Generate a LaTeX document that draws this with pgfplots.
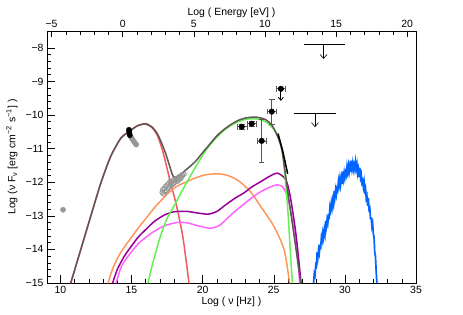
\documentclass[border=0pt]{standalone}
\usepackage{fontspec}
\setmainfont{Liberation Sans}
\usepackage{pgfplots}
\pgfplotsset{compat=1.18}
\usetikzlibrary{arrows.meta}
\definecolor{totc}{RGB}{96,86,86}
\definecolor{redc}{RGB}{240,90,90}
\definecolor{greenc}{RGB}{100,240,80}
\definecolor{orangec}{RGB}{255,150,90}
\definecolor{purplec}{RGB}{150,0,150}
\definecolor{pinkc}{RGB}{255,100,255}
\definecolor{bluec}{RGB}{0,102,255}
\definecolor{grayp}{RGB}{150,150,150}
\begin{document}
\begin{tikzpicture}
\useasboundingbox (-47bp,-32bp) rectangle (416bp,283bp);
\begin{axis}[at={(0,0)}, anchor=south west, scale only axis,
  width=369bp, height=252bp,
  xmin=9.06, xmax=35, ymin=-15, ymax=-7.5,
  xtick={10,15,20,25,30,35}, xticklabels={10,15,20,25,30,35},
  minor x tick num=4,
  ytick={-15,-14,-13,-12,-11,-10,-9,-8},
  yticklabels={−15,−14,−13,−12,−11,−10,−9,−8},
  minor y tick num=4,
  tick align=inside, xtick pos=bottom, ytick pos=left,
  major tick length=8bp, minor tick length=4bp,
  tick style={black, line width=0.5bp},
  axis line style={black, line width=0.6bp},
  font=\fontsize{10.5}{12}\selectfont,
  xlabel={Log ( ν [Hz] )},
  ylabel={Log (ν F\textsubscript{ν} [erg cm\textsuperscript{−2} s\textsuperscript{−1}] )},
  every axis y label/.style={at={(axis description cs:0,0.5)}, xshift=-35bp, anchor=center, rotate=90},
  every axis x label/.style={at={(axis description cs:0.5,0)}, yshift=-19bp, anchor=center},
]
% synchrotron (red)
\addplot[redc, line width=1.5bp, smooth, tension=0.45] coordinates {
(10.6,-15.2)(10.73,-15.0)(11.43,-14.01)(12.13,-13.02)(12.84,-12.03)(13.54,-11.23)(14.25,-10.69)(14.84,-10.49)(15.42,-10.32)(16.0,-10.27)(16.45,-10.38)(16.81,-10.6)(17.16,-11.02)(17.45,-11.5)(17.75,-12.03)(18.05,-12.5)(18.33,-13.02)(18.6,-13.6)(18.8,-14.2)(19.04,-15.0)(19.1,-15.2)};
% orange
\addplot[orangec, line width=1.5bp, smooth, tension=0.45] coordinates {
(13.28,-15.1)(13.7,-14.55)(14.2,-14.12)(14.72,-13.8)(15.5,-13.35)(16.13,-13.02)(16.57,-12.78)(17.5,-12.36)(18.2,-12.12)(18.92,-11.98)(19.5,-11.87)(20.2,-11.78)(21.0,-11.75)(21.7,-11.79)(22.5,-11.95)(23.38,-12.29)(24.08,-12.72)(25.02,-13.32)(25.73,-14.01)(26.08,-14.9)(26.12,-15.1)};
% pink
\addplot[pinkc, line width=1.5bp, smooth, tension=0.45] coordinates {
(13.85,-15.1)(14.3,-14.5)(14.93,-14.11)(15.5,-13.82)(16.13,-13.6)(16.57,-13.47)(17.3,-13.3)(18.21,-13.2)(18.92,-13.21)(19.7,-13.3)(20.56,-13.37)(21.2,-13.28)(21.8,-13.05)(22.4,-12.82)(22.91,-12.65)(23.5,-12.45)(24.1,-12.28)(24.6,-12.17)(25.02,-12.1)(25.25,-12.08)(25.5,-12.1)(25.73,-12.2)(25.96,-12.43)(26.31,-13.12)(26.67,-14.21)(26.82,-15.0)(26.85,-15.2)};
% purple
\addplot[purplec, line width=1.5bp, smooth, tension=0.45] coordinates {
(13.6,-15.1)(14.0,-14.6)(14.5,-14.2)(15.0,-13.9)(15.5,-13.62)(16.1,-13.37)(16.6,-13.17)(17.3,-12.98)(18.0,-12.88)(18.9,-12.87)(19.7,-12.92)(20.4,-12.95)(21.0,-12.87)(21.6,-12.68)(22.3,-12.47)(22.9,-12.32)(23.5,-12.13)(24.1,-11.98)(24.6,-11.85)(25.0,-11.76)(25.25,-11.73)(25.5,-11.78)(25.75,-11.87)(25.96,-12.05)(26.2,-12.52)(26.55,-13.51)(26.85,-14.7)(26.92,-15.0)(26.95,-15.2)};
% green
\addplot[greenc, line width=1.5bp, smooth, tension=0.4] coordinates {
(16.1,-15.1)(16.5,-14.4)(17.0,-13.65)(17.5,-13.08)(18.0,-12.7)(18.5,-12.3)(19.0,-11.92)(19.5,-11.55)(20.0,-11.2)(20.5,-10.9)(21.0,-10.66)(21.5,-10.46)(22.0,-10.31)(22.5,-10.2)(23.0,-10.13)(23.5,-10.11)(24.0,-10.13)(24.5,-10.22)(25.0,-10.42)(25.3,-10.65)(25.6,-11.1)(25.8,-11.85)(26.0,-12.9)(26.2,-14.3)(26.35,-15.2)};
% total
\addplot[totc, line width=1.5bp, smooth, tension=0.4] coordinates {
(10.6,-15.2)(10.73,-15.0)(11.43,-14.01)(12.13,-13.02)(12.84,-12.03)(13.54,-11.23)(14.25,-10.69)(14.84,-10.49)(15.42,-10.32)(16.0,-10.26)(16.45,-10.36)(16.81,-10.55)(17.1,-10.82)(17.38,-11.12)(17.63,-11.45)(17.9,-11.8)(18.1,-11.86)(18.5,-11.75)(18.92,-11.6)(19.5,-11.38)(20.0,-11.12)(20.56,-10.84)(21.0,-10.62)(21.5,-10.43)(22.0,-10.28)(22.5,-10.16)(23.0,-10.09)(23.6,-10.06)(24.0,-10.08)(24.44,-10.14)(24.9,-10.32)(25.35,-10.72)(25.6,-11.1)(26.06,-12.5)(26.5,-13.8)(26.9,-15.0)(26.97,-15.2)};
% black butterfly segment
\addplot[black, line width=1.5bp] coordinates {(25.3,-10.55)(25.62,-11.05)(25.98,-11.75)};
% blue
\addplot[bluec, line width=1.7bp] coordinates {
(27.80,-15.0)(27.85,-14.72)(27.90,-14.78)(27.95,-14.46)(28.00,-14.50)(28.05,-14.08)(28.10,-14.24)(28.15,-14.01)(28.20,-14.12)(28.25,-13.91)(28.30,-13.94)(28.35,-13.64)(28.40,-13.74)(28.45,-13.51)(28.50,-13.65)(28.55,-13.43)(28.60,-13.55)(28.65,-13.15)(28.70,-13.31)(28.75,-13.10)(28.80,-13.22)(28.85,-13.01)(28.90,-13.04)(28.95,-12.74)(29.00,-12.84)(29.05,-12.61)(29.10,-12.75)(29.15,-12.53)(29.20,-12.65)(29.25,-12.26)(29.30,-12.44)(29.35,-12.23)(29.40,-12.37)(29.45,-12.18)(29.50,-12.24)(29.55,-11.96)(29.60,-12.09)(29.65,-11.89)(29.70,-12.08)(29.75,-11.89)(29.80,-12.05)(29.85,-11.68)(29.90,-11.89)(29.95,-11.71)(30.00,-11.87)(30.05,-11.71)(30.10,-11.79)(30.15,-11.54)(30.20,-11.69)(30.25,-11.51)(30.30,-11.70)(30.35,-11.53)(30.40,-11.70)(30.45,-11.36)(30.50,-11.59)(30.55,-11.43)(30.60,-11.62)(30.65,-11.49)(30.70,-11.62)(30.75,-11.40)(30.80,-11.59)(30.85,-11.47)(30.90,-11.73)(30.95,-11.61)(31.00,-11.85)(31.05,-11.57)(31.10,-11.86)(31.15,-11.77)(31.20,-12.02)(31.25,-11.96)(31.30,-12.14)(31.35,-11.99)(31.40,-12.24)(31.45,-12.17)(31.50,-12.48)(31.55,-12.41)(31.60,-12.70)(31.65,-12.47)(31.70,-12.81)(31.75,-12.77)(31.80,-13.07)(31.85,-13.07)(31.90,-13.32)(31.95,-13.22)(32.00,-13.54)(32.05,-13.63)(32.10,-14.10)(32.15,-14.20)(32.20,-14.65)(32.25,-15.0)};
% radio point
\addplot[only marks, mark=*, mark size=2.6bp, grayp] coordinates {(10.19,-12.82)};
% optical gray
\addplot[only marks, mark=*, mark size=2.6bp, grayp] coordinates {(14.97,-10.66)(15.06,-10.72)(15.15,-10.78)(15.24,-10.83)(15.33,-10.88)};
% optical black
\addplot[only marks, mark=*, mark size=2.6bp, black] coordinates {(14.82,-10.44)(14.84,-10.5)(14.86,-10.56)(14.88,-10.6)(14.85,-10.47)};
% X-ray
\addplot[only marks, mark=o, mark size=2.2bp, grayp, line width=0.9bp] coordinates {
(17.15,-12.30)(17.2,-12.22)(17.25,-12.35)(17.3,-12.18)(17.35,-12.28)(17.4,-12.12)(17.45,-12.25)(17.5,-12.08)(17.55,-12.2)(17.6,-12.05)(17.65,-12.15)(17.7,-11.98)(17.75,-12.1)(17.8,-12.02)(17.85,-12.08)(17.9,-11.95)(17.95,-12.05)(18.0,-11.92)(18.05,-12.0)(18.1,-11.96)(18.15,-11.9)(18.2,-11.88)(18.25,-11.97)(18.3,-11.92)(18.35,-11.84)(18.4,-11.83)(18.45,-11.9)(18.5,-11.86)(18.55,-11.78)(18.6,-11.8)(18.7,-11.76)};
% Fermi points
\addplot[only marks, mark=*, mark size=2.8bp, black,
  error bars/.cd, x dir=both, x explicit, y dir=both, y explicit,
  error bar style={line width=0.6bp, color=totc}] coordinates {
(22.75,-10.35) +- (0.35,0.08)
(23.45,-10.26) +- (0.35,0.08)
(24.86,-9.9) +- (0.3,0.36)
(25.5,-9.22) +- (0.3,0.0)};
\addplot[only marks, mark=*, mark size=2.8bp, black,
  error bars/.cd, x dir=both, x explicit, y dir=both, y explicit,
  error bar style={line width=0.6bp, color=totc}] coordinates {
(24.15,-10.77) +- (0.3,0.64)};
% arrows
\addplot[black, line width=0.8bp, quiver={u=0,v=-0.36}, -{Straight Barb[length=3bp,width=5bp]}] coordinates {(25.5,-9.22)};
\addplot[black, line width=0.9bp] coordinates {(27.1,-7.91)(30.0,-7.91)};
\addplot[black, line width=0.6bp, quiver={u=0,v=-0.42}, -{Straight Barb[length=4bp,width=7bp]}] coordinates {(28.5,-7.91)};
\addplot[black, line width=0.9bp] coordinates {(26.4,-9.94)(29.4,-9.94)};
\addplot[black, line width=0.6bp, quiver={u=0,v=-0.42}, -{Straight Barb[length=4bp,width=7bp]}] coordinates {(27.9,-9.94)};
\end{axis}
\begin{axis}[at={(0,0)}, anchor=south west, scale only axis,
  width=369bp, height=252bp,
  xmin=-5.323, xmax=20.617, ymin=0, ymax=1,
  hide y axis, xtick pos=top, xticklabel pos=upper,
  xtick={-5,0,5,10,15,20}, xticklabels={−5,0,5,10,15,20},
  minor x tick num=4, tick align=inside,
  major tick length=6bp, minor tick length=4bp,
  tick style={black, line width=0.5bp},
  axis line style={black, line width=0.6bp},
  font=\fontsize{10.5}{12}\selectfont,
  xlabel={Log ( Energy [eV] )},
  every axis x label/.style={at={(axis description cs:0.5,1)}, yshift=18bp, anchor=center},
]
\addplot[draw=none] coordinates {(0,0.5)};
\end{axis}
\end{tikzpicture}
\end{document}
